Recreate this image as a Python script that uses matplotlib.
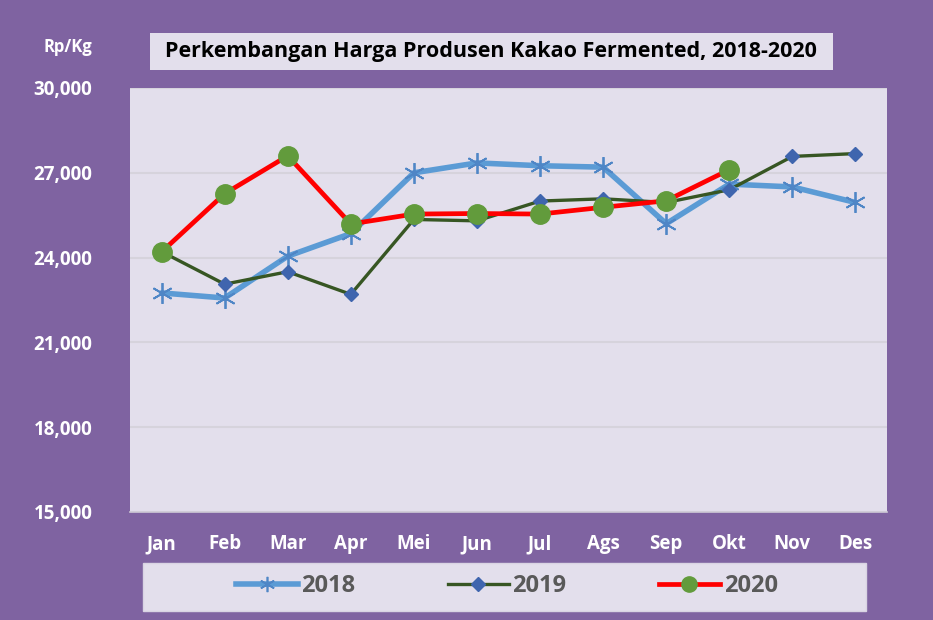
import matplotlib
matplotlib.use("Agg")
import matplotlib.pyplot as plt
from matplotlib.patches import Rectangle
from matplotlib.lines import Line2D

plt.rcParams['font.family'] = ['Open Sans', 'DejaVu Sans']

months = ["Jan", "Feb", "Mar", "Apr", "Mei", "Jun", "Jul", "Ags", "Sep", "Okt", "Nov", "Des"]
harga_2018 = [22750, 22570, 24050, 24850, 27000, 27350, 27250, 27200, 25200, 26600, 26500, 25950]
harga_2019 = [24210, 23060, 23500, 22700, 25350, 25300, 26000, 26080, 25950, 26400, 27580, 27680]
harga_2020 = [24200, 26260, 27600, 25190, 25540, 25560, 25540, 25780, 26010, 27110]
yticks = [15000, 18000, 21000, 24000, 27000, 30000]
title = "Perkembangan Harga Produsen Kakao Fermented, 2018-2020"
unit = "Rp/Kg"

PURPLE = "#7F63A1"
LAV = "#E3DFEC"

fig = plt.figure(figsize=(9.33, 6.2), dpi=100, facecolor=PURPLE)
ax = fig.add_axes([130/933, 1-512/620, 757/933, 424/620])
ax.set_facecolor(LAV)

x = list(range(len(months)))
x20 = list(range(len(harga_2020)))

# lines
ax.plot(x, harga_2018, color="#5B9BD5", lw=4.0, solid_capstyle='round', zorder=3)
ax.plot(x, harga_2019, color="#375623", lw=2.4, zorder=4)
ax.plot(x20, harga_2020, color="#FF0000", lw=3.4, zorder=5)
# markers
ast = (6, 2, 0)
ax.plot(x, harga_2018, ls='none', marker=ast, ms=15, mew=1.3, mec="#4F86C6", zorder=6)
ax.plot(x, harga_2019, ls='none', marker='D', ms=7.5, mfc="#3F65AE", mec="#3F65AE", zorder=7)
ax.plot(x20, harga_2020, ls='none', marker='o', ms=14, mfc="#629B3C", mec="#629B3C", zorder=8)

ax.set_xlim(-0.5, len(months) - 0.5)
ax.set_ylim(yticks[0], yticks[-1])
ax.set_yticks(yticks)
ax.set_yticklabels([f"{v:,}" for v in yticks])
ax.set_xticks(x)
ax.set_xticklabels(months)
ax.tick_params(axis='both', length=0, colors='white', labelsize=13.5)
ax.tick_params(axis='y', pad=27)
ax.tick_params(axis='x', pad=16)
for lbl in ax.get_xticklabels() + ax.get_yticklabels():
    lbl.set_fontweight('bold')
ax.grid(axis='y', color="#D6D3DC", lw=1.5, zorder=1)
ax.set_axisbelow(True)
for s in ax.spines.values():
    s.set_visible(False)
ax.spines['bottom'].set_visible(True)
ax.spines['bottom'].set_color("#CFCBD6")
ax.spines['bottom'].set_linewidth(1.2)

# title box
fig.patches.append(Rectangle((150/933, 1-70/620), 683/933, 37/620, transform=fig.transFigure,
                             facecolor=LAV, edgecolor='none'))
fig.text(491/933, 1-51/620, title, ha='center', va='center', fontsize=15.5,
         fontweight='bold', color='black')
fig.text(68/933, 1-47/620, unit, ha='center', va='center', fontsize=12,
         fontweight='bold', color='white')

# legend box
fig.patches.append(Rectangle((143/933, 1-611/620), 723/933, 48/620, transform=fig.transFigure,
                             facecolor=LAV, edgecolor='#D9D4E3', lw=1))
handles = [
    Line2D([], [], color="#5B9BD5", lw=4.0, marker=ast, ms=11, mew=1.2, mec="#4F86C6"),
    Line2D([], [], color="#375623", lw=2.4, marker='D', ms=7, mfc="#3F65AE", mec="#3F65AE"),
    Line2D([], [], color="#FF0000", lw=3.4, marker='o', ms=11, mfc="#629B3C", mec="#629B3C"),
]
leg = fig.legend(handles, ["2018", "2019", "2020"], loc='center',
                 bbox_to_anchor=(507/933, 1-586/620), ncol=3, frameon=False,
                 handlelength=2.6, handletextpad=0.15, columnspacing=3.9,
                 numpoints=1, prop={'weight': 'bold', 'size': 17})
for t in leg.get_texts():
    t.set_color("#595959")

fig.savefig("out.png", dpi=100, facecolor=PURPLE)
